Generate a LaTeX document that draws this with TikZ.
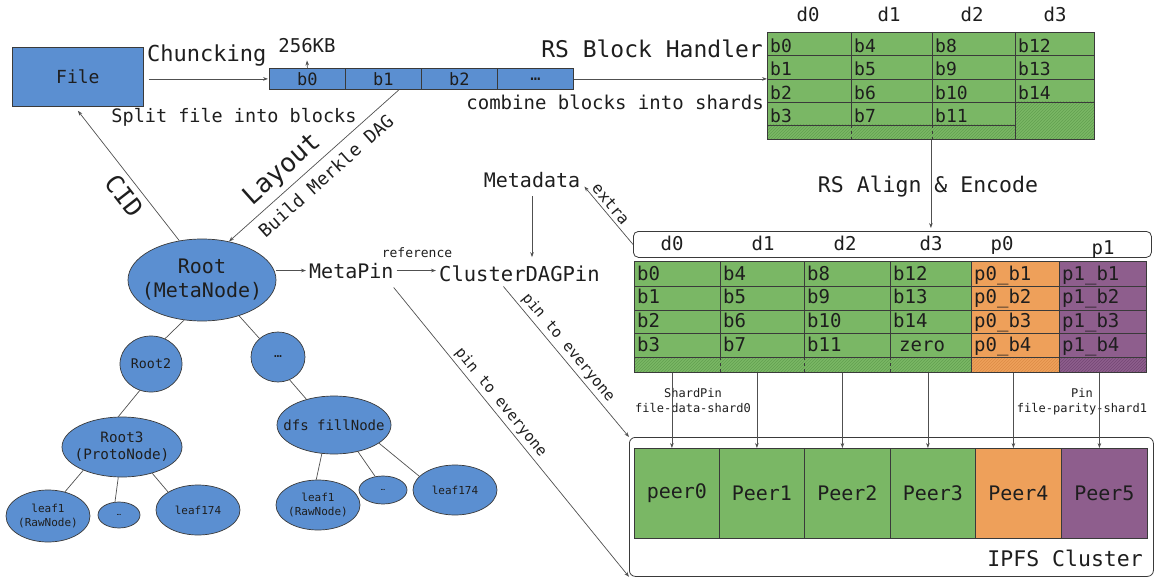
\documentclass[tikz,border=0pt]{standalone}
\usepackage{fontspec}
\setmainfont{DejaVu Sans Mono}
\usetikzlibrary{shapes.geometric,patterns,arrows.meta,calc}
\definecolor{cblue}{HTML}{5B8FD1}
\definecolor{cgreen}{HTML}{7AB765}
\definecolor{corange}{HTML}{EEA05A}
\definecolor{cpurple}{HTML}{8E5E8D}
\definecolor{hgreen}{HTML}{62A050}
\definecolor{horange}{HTML}{DC8C46}
\definecolor{hpurple}{HTML}{744874}
\definecolor{inkcol}{HTML}{1E1E1E}
\definecolor{lncol}{HTML}{3A3A3A}
\definecolor{wirecol}{HTML}{505050}
\newcommand\fsz[2]{\fontsize{#1pt}{#2pt}\selectfont}
\begin{document}
\begin{tikzpicture}[x=1pt,y=-1pt,
  box/.style={draw=lncol, line width=0.8pt, inner sep=0pt, anchor=north west, text=inkcol},
  blob/.style={ellipse, draw=lncol, fill=cblue, line width=0.7pt, inner sep=0pt},
  conn/.style={draw=wirecol, line width=0.7pt, -{Stealth[length=5pt,width=3.6pt]}},
  tline/.style={draw=wirecol, line width=0.7pt},
  txt/.style={text=inkcol, inner sep=0pt},
  hatch/.style={pattern=north east lines, pattern color=#1},
]
\useasboundingbox (0,0) rectangle (1156,580);

% ---------- file and chunk bar ----------
\node[box, fill=cblue, minimum width=131pt, minimum height=59pt, font=\fsz{18}{20}] (file) at (12,47) {File};
\foreach \n/\x/\t in {b0/269/b0, b1/345/b1, b2/421/b2, bd/497/…}
  \node[box, fill=cblue, minimum width=76pt, minimum height=21pt, font=\fsz{17}{18}] (\n) at (\x,68) {\t};

\node[txt, font=\fsz{22}{24}, anchor=base west] (chunk) at (147,62) {Chuncking};
\node[txt, font=\fsz{19}{21}, anchor=base] (kb) at (307,53) {256KB};
\node[txt, font=\fsz{18.5}{20}, anchor=base] (split) at (234,123) {Split file into blocks};
\node[txt, font=\fsz{23}{25}, anchor=base east] (rsbh) at (763,58) {RS Block Handler};
\node[txt, font=\fsz{19}{21}, anchor=base east] (comb) at (764,110) {combine blocks into shards};

% ---------- RS block table ----------
\node[box, fill=cgreen, minimum width=327pt, minimum height=107pt] (tab1) at (767,32) {};
\fill[hatch=hgreen] (767,125) rectangle (1015,139);
\fill[hatch=hgreen] (1015,102) rectangle (1094,139);
\draw[lncol, line width=0.8pt] (767,55) -- (1094,55) (767,79) -- (1094,79) (767,102) -- (1094,102)
  (767,125) -- (1015,125) (851,32) -- (851,125) (932,32) -- (932,125) (1015,32) -- (1015,139);
\draw[lncol, line width=0.5pt, dashed] (851,125) -- (851,139) (932,125) -- (932,139);
\draw[lncol, line width=0.8pt] (tab1.north west) rectangle (tab1.south east);
\foreach \t/\x in {d0/808, d1/889, d2/972, d3/1055}
  \node[txt, font=\fsz{19}{21}, anchor=base] (h1-\t) at (\x,22) {\t};
\foreach \cx/\names in {770/{b0,b1,b2,b3}, 854/{b4,b5,b6,b7}, 935/{b8,b9,b10,b11}, 1018/{b12,b13,b14}}
  \foreach \n [count=\k] in \names
    \node[txt, font=\fsz{18}{20}, anchor=base west] (c1-\n) at (\cx,29+23.4*\k) {\n};

\node[txt, font=\fsz{21.5}{24}, anchor=base] (align) at (928,193) {RS Align \& Encode};

% ---------- encoded table ----------
\node[draw=lncol, line width=0.8pt, rounded corners=5pt, fill=white, minimum width=518pt,
      minimum height=26pt, anchor=north west, inner sep=0pt] (hdr) at (633,231) {};
\foreach \t/\x/\y in {d0/672/250, d1/763/250, d2/845/250, d3/931/250, p0/1002/251, p1/1103/254}
  \node[txt, font=\fsz{19}{21}, anchor=base] (h2-\t) at (\x,\y) {\t};

\node[box, fill=cgreen, minimum width=512pt, minimum height=111pt] (tab2) at (634,261) {};
\fill[corange] (971,261) rectangle (1059,372);
\fill[cpurple] (1059,261) rectangle (1146,372);
\fill[hatch=hgreen] (634,357) rectangle (971,372);
\fill[hatch=horange] (971,357) rectangle (1059,372);
\fill[hatch=hpurple] (1059,357) rectangle (1146,372);
\draw[lncol, line width=0.8pt] (634,286) -- (1146,286) (634,310) -- (1146,310) (634,333) -- (1146,333)
  (634,357) -- (1146,357) (720,261) -- (720,357) (804,261) -- (804,357) (890,261) -- (890,357)
  (971,261) -- (971,372) (1059,261) -- (1059,372);
\draw[lncol, line width=0.5pt, dashed] (720,357) -- (720,372) (804,357) -- (804,372) (890,357) -- (890,372);
\draw[lncol, line width=0.8pt] (tab2.north west) rectangle (tab2.south east);
\foreach \cx/\names in {637/{b0,b1,b2,b3}, 723/{b4,b5,b6,b7}, 807/{b8,b9,b10,b11}, 893/{b12,b13,b14},
    974/{p0\_b1,p0\_b2,p0\_b3,p0\_b4}, 1062/{p1\_b1,p1\_b2,p1\_b3,p1\_b4}}
  \foreach \n [count=\k] in \names
    \node[txt, font=\fsz{19}{21}, anchor=base west] at (\cx,256.5+23.7*\k) {\n};
\node[txt, font=\fsz{19}{21}, anchor=base west] (c2-zero) at (899,351) {zero};

% ---------- IPFS cluster ----------
\node[draw=lncol, line width=0.8pt, rounded corners=6pt, minimum width=524pt, minimum height=139pt,
      anchor=north west, inner sep=0pt] (cluster) at (629,437) {};
\foreach \n/\x/\w/\c/\t in {peer0/634/85/cgreen/peer0, peer1/719/85/cgreen/Peer1, peer2/804/86/cgreen/Peer2,
    peer3/890/85/cgreen/Peer3, peer4/975/86/corange/Peer4, peer5/1061/86/cpurple/Peer5}
  \node[box, fill=\c, minimum width=\w pt, minimum height=90pt, font=\fsz{20}{22}] (\n) at (\x,448) {\t};
\node[txt, font=\fsz{21.5}{24}, anchor=base east] (ipfs) at (1143,566) {IPFS Cluster};

\node[txt, font=\fsz{12}{15}, anchor=base] (sp1) at (693,397) {ShardPin};
\node[txt, font=\fsz{12}{15}, anchor=base] (sp2) at (693,412) {file-data-shard0};
\node[txt, font=\fsz{12}{15}, anchor=base] (pp1) at (1082,397) {Pin};
\node[txt, font=\fsz{12}{15}, anchor=base] (pp2) at (1082,412) {file-parity-shard1};

% ---------- pins and metadata ----------
\node[txt, font=\fsz{20}{22}, anchor=base] (meta) at (532,188) {Metadata};
\node[txt, font=\fsz{20}{22}, anchor=base west] (mp) at (309,278) {MetaPin};
\node[txt, font=\fsz{20.5}{22}, anchor=base west] (cdp) at (439,281) {ClusterDAGPin};
\node[txt, font=\fsz{13}{15}, anchor=base] (refl) at (417,257) {reference};

% ---------- Merkle DAG ----------
\node[blob, minimum width=148pt, minimum height=82pt] (root) at (202,280) {};
\node[txt, font=\fsz{20}{24}, align=center] (root-t) at (root) {Root\\(MetaNode)};
\node[blob, minimum width=62pt, minimum height=56pt] (root2) at (151,364) {};
\node[txt, font=\fsz{13.3}{16}] (root2-t) at (root2) {Root2};
\node[blob, minimum width=54pt, minimum height=50pt] (more) at (278,357) {};
\node[txt, font=\fsz{13}{15}] (more-t) at (more) {…};
\node[blob, minimum width=120pt, minimum height=60pt] (root3) at (122,447) {};
\node[txt, font=\fsz{14.3}{17}, align=center] (root3-t) at (root3) {Root3\\(ProtoNode)};
\node[blob, minimum width=114pt, minimum height=58pt] (dfs) at (334,425) {};
\node[txt, font=\fsz{14}{16}] (dfs-t) at (dfs) {dfs fillNode};

\node[blob, minimum width=84pt, minimum height=52pt] (la1) at (48,516) {};
\node[txt, font=\fsz{11}{14}, align=center] (la1-t) at (la1) {leaf1\\(RawNode)};
\node[blob, minimum width=42pt, minimum height=26pt] (lad) at (119,515) {};
\node[txt, font=\fsz{7}{8}] (lad-t) at (lad) {…};
\node[blob, minimum width=84pt, minimum height=50pt] (la9) at (198,510) {};
\node[txt, font=\fsz{11}{14}] (la9-t) at (la9) {leaf174};

\node[blob, minimum width=84pt, minimum height=50pt] (lb1) at (318,505) {};
\node[txt, font=\fsz{11}{14}, align=center] (lb1-t) at (lb1) {leaf1\\(RawNode)};
\node[blob, minimum width=48pt, minimum height=28pt] (lbd) at (383,490) {};
\node[txt, font=\fsz{7}{8}] (lbd-t) at (lbd) {…};
\node[blob, minimum width=84pt, minimum height=50pt] (lb9) at (455,490) {};
\node[txt, font=\fsz{11}{14}] (lb9-t) at (lb9) {leaf174};

\draw[tline] (root.246) -- (root2.61);
\draw[tline] (root.316) -- (more.135);
\draw[tline] (root2.247) -- (root3.97);
\draw[tline] (more.297) -- (dfs.137);
\draw[tline] (root3.211) -- (la1.55);
\draw[tline] (root3.263) -- (lad.107);
\draw[tline] (root3.319) -- (la9.149);
\draw[tline] (dfs.247) -- (lb1.94);
\draw[tline] (dfs.312) -- (lbd.120);
\draw[tline] (dfs.338) -- (lb9.159);

% ---------- connectors ----------
\draw[conn] ($(file.east |- b0.west)+(5,0)$) -- ($(b0.west)+(-1,0)$);
\draw[conn] (b0.north) -- ($(kb.south)+(0,7)$);
\draw[conn] (bd.east) -- (bd.east -| tab1.west);
\draw[conn] (tab1.south) -- ($(tab1.south |- hdr.north)+(0,-3)$);

\draw[conn] (b1.-35) --
  node[sloped, pos=0.615, anchor=south, inner sep=5pt, text=inkcol, font=\fsz{26}{28}] (lay) {Layout}
  node[sloped, pos=0.49, anchor=north, inner sep=8pt, text=inkcol, font=\fsz{18}{20}] (bmd) {Build Merkle DAG}
  (root.55);
\draw[conn] (root.120) --
  node[sloped, pos=0.42, anchor=north, inner sep=6pt, text=inkcol, font=\fsz{25}{28}] (cid) {CID}
  ([yshift=-4pt]file.south);

\draw[conn] (root.east |- mp.west) -- ($(mp.west)+(-3,0)$);
\draw[conn] ($(mp.east)+(3,0)$) -- ($(mp.east -| cdp.west)+(-3,0)$);
\draw[conn] ($(meta.south)+(0,8)$) -- ($(meta.south |- cdp.north)+(0,-8)$);
\draw[conn] (hdr.west) --
  node[sloped, pos=0.6, anchor=south, inner sep=3pt, text=inkcol, font=\fsz{16}{18}] (extra) {extra}
  ($(meta.east)+(4,6)$);
\draw[conn] ($(cdp.south)+(-16,5)$) --
  node[sloped, pos=0.45, anchor=south, inner sep=3pt, text=inkcol, font=\fsz{15}{17}] (pin1) {pin to everyone}
  (cluster.north west);
\draw[conn] ($(mp.south east)+(0,9)$) --
  node[sloped, pos=0.42, anchor=south, inner sep=3pt, text=inkcol, font=\fsz{15}{17}] (pin2) {pin to everyone}
  (cluster.south west);

\foreach \p in {peer0,peer1,peer2,peer3,peer4,peer5}
  \draw[conn] ($(\p.north |- tab2.south)+(-5,0)$) -- ($(\p.north)+(-5,0)$);
\end{tikzpicture}
\end{document}
